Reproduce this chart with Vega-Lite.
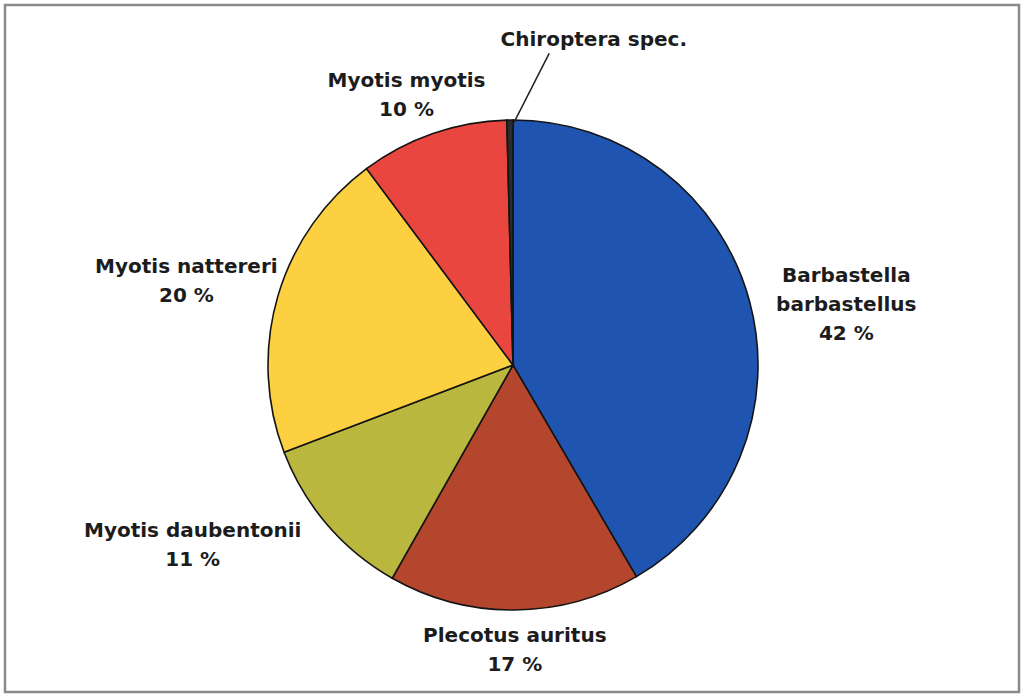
{
  "$schema": "https://vega.github.io/schema/vega-lite/v6.json",
  "width": 1014,
  "height": 687,
  "autosize": {"type": "none"},
  "padding": {"left": 5, "top": 5, "right": 2, "bottom": 2},
  "background": "white",
  "view": {"stroke": "#8a8a8a", "strokeWidth": 2.5, "fill": "white"},
  "data": {
    "values": [
      {"idx": 1, "species": "Barbastella barbastellus", "share": 41.6, "label": "Barbastella\nbarbastellus\n42 %"},
      {"idx": 2, "species": "Plecotus auritus", "share": 16.6, "label": "Plecotus auritus\n17 %"},
      {"idx": 3, "species": "Myotis daubentonii", "share": 11.0, "label": "Myotis daubentonii\n11 %"},
      {"idx": 4, "species": "Myotis nattereri", "share": 20.6, "label": "Myotis nattereri\n20 %"},
      {"idx": 5, "species": "Myotis myotis", "share": 9.8, "label": "Myotis myotis\n10 %"},
      {"idx": 6, "species": "Chiroptera spec.", "share": 0.4, "label": "Chiroptera spec."}
    ]
  },
  "encoding": {
    "theta": {"field": "share", "type": "quantitative", "stack": true},
    "order": {"field": "idx", "type": "ordinal"},
    "detail": {"field": "species", "type": "nominal"}
  },
  "layer": [
    {
      "mark": {"type": "arc", "outerRadius": 245, "stroke": "#141414", "strokeWidth": 1.6, "x": {"expr": "width/2+1"}, "y": {"expr": "height/2+16.5"}},
      "encoding": {
        "color": {
          "field": "species", "type": "nominal", "legend": null,
          "scale": {
            "domain": ["Barbastella barbastellus", "Plecotus auritus", "Myotis daubentonii", "Myotis nattereri", "Myotis myotis", "Chiroptera spec."],
            "range": ["#1f55b0", "#b3462c", "#b9b73d", "#fcd040", "#e9463f", "#2c2c2c"]
          }
        }
      }
    },
    {
      "mark": {"type": "text", "radius": 338, "dx": 7, "dy": -1, "lineBreak": "\n", "lineHeight": 29, "font": "DejaVu Sans", "fontWeight": "bold", "fontSize": 20, "fill": "#1c1c1c", "align": "center", "baseline": "middle", "x": {"expr": "width/2+1"}, "y": {"expr": "height/2+16.5"}},
      "encoding": {"text": {"condition": {"test": "datum.idx == 1", "field": "label", "type": "nominal"}, "value": ""}}
    },
    {
      "mark": {"type": "text", "radius": 286, "dx": 0, "dy": -14.5, "lineBreak": "\n", "lineHeight": 29, "font": "DejaVu Sans", "fontWeight": "bold", "fontSize": 20, "fill": "#1c1c1c", "align": "center", "baseline": "middle", "x": {"expr": "width/2+1"}, "y": {"expr": "height/2+16.5"}},
      "encoding": {"text": {"condition": {"test": "datum.idx == 2", "field": "label", "type": "nominal"}, "value": ""}}
    },
    {
      "mark": {"type": "text", "radius": 367, "dx": -42, "dy": -73.5, "lineBreak": "\n", "lineHeight": 29, "font": "DejaVu Sans", "fontWeight": "bold", "fontSize": 20, "fill": "#1c1c1c", "align": "center", "baseline": "middle", "x": {"expr": "width/2+1"}, "y": {"expr": "height/2+16.5"}},
      "encoding": {"text": {"condition": {"test": "datum.idx == 3", "field": "label", "type": "nominal"}, "value": ""}}
    },
    {
      "mark": {"type": "text", "radius": 337, "dx": -3, "dy": -3.5, "lineBreak": "\n", "lineHeight": 29, "font": "DejaVu Sans", "fontWeight": "bold", "fontSize": 20, "fill": "#1c1c1c", "align": "center", "baseline": "middle", "x": {"expr": "width/2+1"}, "y": {"expr": "height/2+16.5"}},
      "encoding": {"text": {"condition": {"test": "datum.idx == 4", "field": "label", "type": "nominal"}, "value": ""}}
    },
    {
      "mark": {"type": "text", "radius": 289, "dx": -12, "dy": -10.5, "lineBreak": "\n", "lineHeight": 29, "font": "DejaVu Sans", "fontWeight": "bold", "fontSize": 20, "fill": "#1c1c1c", "align": "center", "baseline": "middle", "x": {"expr": "width/2+1"}, "y": {"expr": "height/2+16.5"}},
      "encoding": {"text": {"condition": {"test": "datum.idx == 5", "field": "label", "type": "nominal"}, "value": ""}}
    },
    {
      "mark": {"type": "text", "radius": 335, "dx": 85, "dy": 10, "lineBreak": "\n", "lineHeight": 29, "font": "DejaVu Sans", "fontWeight": "bold", "fontSize": 20, "fill": "#1c1c1c", "align": "center", "baseline": "middle", "x": {"expr": "width/2+1"}, "y": {"expr": "height/2+16.5"}},
      "encoding": {"text": {"condition": {"test": "datum.idx == 6", "field": "label", "type": "nominal"}, "value": ""}}
    },
    {
      "mark": {"type": "text", "radius": 278, "dx": 20, "dy": -2.5, "angle": 27, "font": "Inter", "fontWeight": 100, "fontSize": 68, "fill": "#222222", "align": "center", "baseline": "middle", "x": {"expr": "width/2+1"}, "y": {"expr": "height/2+16.5"}},
      "encoding": {"text": {"condition": {"test": "datum.idx == 6", "value": "|"}, "value": ""}}
    }
  ]
}
